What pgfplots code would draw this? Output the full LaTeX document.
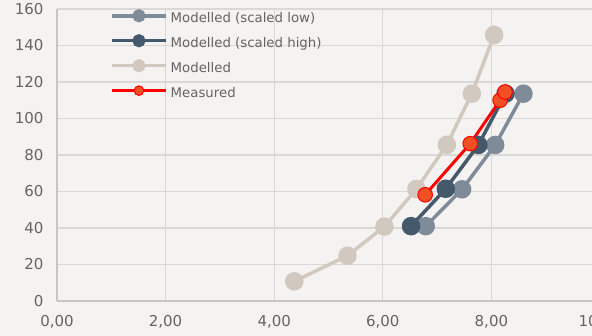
\documentclass[border=0pt]{standalone}
\usepackage{pgfplots}
\pgfplotsset{compat=1.18}
\usepackage{fontspec}
\setmainfont{DejaVu Sans}
\definecolor{bg}{RGB}{244,243,241}
\definecolor{gridc}{RGB}{218,216,213}
\definecolor{axisc}{RGB}{200,198,195}
\definecolor{labc}{RGB}{100,100,100}
\definecolor{lowc}{RGB}{127,139,152}
\definecolor{highc}{RGB}{68,89,107}
\definecolor{modc}{RGB}{209,201,191}
\definecolor{measfill}{RGB}{240,80,35}
\begin{document}
\begin{tikzpicture}
\useasboundingbox (-57pt,-35pt) rectangle (535pt,301pt);
\fill[bg] (-57pt,-35pt) rectangle (535pt,301pt);
\begin{axis}[
  anchor=origin, at={(0pt,0pt)},
  x=54.3pt, y=1.825pt,
  xmin=0, xmax=10, ymin=0, ymax=160,
  axis x line*=bottom, axis y line*=left,
  axis line style={-, draw=axisc, line width=1.3pt},
  xtick={0,2,4,6,8,10}, ytick={0,20,...,160},
  major tick length=0pt,
  grid=major, major grid style={draw=gridc, line width=1.3pt},
  /pgf/number format/assume math mode=true,
  tick label style={font=\fontsize{15}{17}\selectfont, text=labc},
  xticklabel={\pgfmathprintnumber[fixed,fixed zerofill,precision=2,use comma,assume math mode=true]{\tick}},
  xticklabel style={yshift=-10.5pt},
  yticklabel style={xshift=-10pt},
  clip=false,
  legend style={at={(0.098,1)}, anchor=north west, draw=none, fill=none,
    inner sep=0pt, outer sep=0pt, font=\fontsize{13.3}{15}\selectfont, text=labc,
    yshift=-2pt,
    row sep=9.1pt, nodes={inner sep=1pt, text height=9.5pt, text depth=3pt},
    /tikz/every odd column/.append style={column sep=2pt}},
  legend cell align=left,
  legend image code/.code={\draw[#1, mark repeat=2, mark phase=2, mark size=4.8pt] plot coordinates {(0pt,3.8pt) (27pt,3.8pt) (54pt,3.8pt)};},
]
\addplot[color=lowc, line width=3.5pt, mark=*, mark size=7.5pt, mark options={solid, fill=lowc, draw=none}]
  coordinates {(6.79,41) (7.46,61.2) (8.07,85.5) (8.59,113.6)};
\addlegendentry{Modelled (scaled low)}
\addplot[color=highc, line width=3.5pt, mark=*, mark size=7.5pt, mark options={solid, fill=highc, draw=none}]
  coordinates {(6.52,41) (7.16,61.5) (7.76,85.5) (8.26,113.6)};
\addlegendentry{Modelled (scaled high)}
\addplot[color=modc, line width=3.5pt, mark=*, mark size=7.5pt, mark options={solid, fill=modc, draw=none}]
  coordinates {(4.37,10.8) (5.35,24.8) (6.03,40.8) (6.62,61.4) (7.18,85.6) (7.64,113.6) (8.05,145.8)};
\addlegendentry{Modelled}
\addplot[color=red, line width=3pt, mark=*, mark size=7.3pt, mark options={solid, fill=measfill, draw=red, line width=1pt}]
  coordinates {(6.78,58.2) (7.61,86.2) (8.16,110) (8.25,114.5)};
\addlegendentry{Measured}
\end{axis}
\end{tikzpicture}
\end{document}
